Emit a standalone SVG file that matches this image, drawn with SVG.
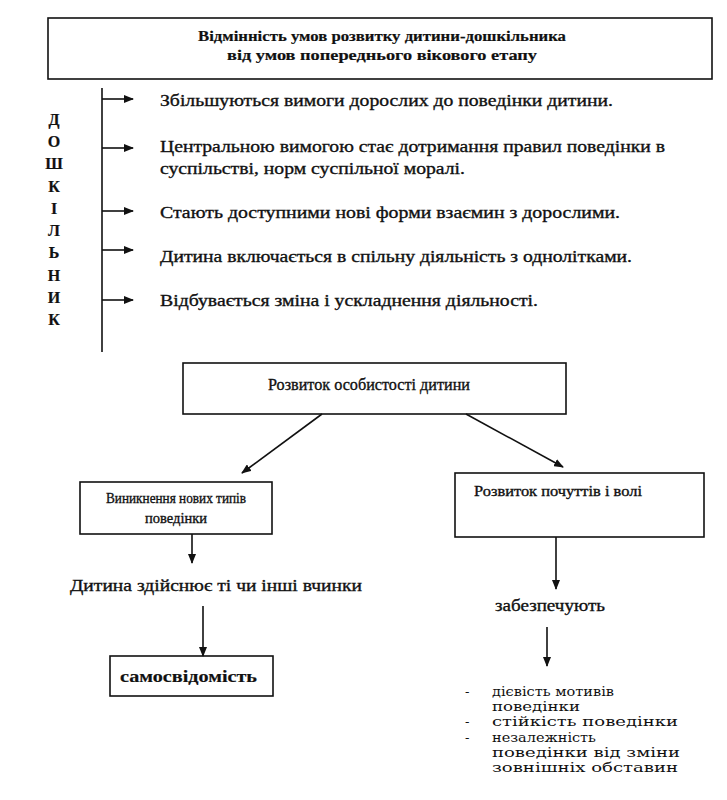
<svg xmlns="http://www.w3.org/2000/svg" width="727" height="800" viewBox="0 0 727 800">
<style>
.box{fill:#fff;stroke:#111;stroke-width:1.6}
.t{font-family:"Liberation Serif","Times New Roman",serif;fill:#111;stroke:#111;stroke-width:0.35}
.b{font-weight:bold;stroke-width:0.2}
.l{font-family:"DejaVu Serif","Liberation Serif",serif;stroke-width:0}
.ln{stroke:#111;stroke-width:1.6;fill:none}
</style>
<defs>
<marker id="ah" markerWidth="10" markerHeight="8" refX="9" refY="4" orient="auto" markerUnits="userSpaceOnUse">
<path d="M0,0 L10,4 L0,8 Z" fill="#111"/>
</marker>
</defs>
<rect width="727" height="800" fill="#fff"/>
<g id="title">
<rect class="box" x="48" y="18" width="664" height="61"/>
<text class="t b" x="382" y="41" font-size="15" text-anchor="middle" textLength="368" lengthAdjust="spacingAndGlyphs">Відмінність умов розвитку дитини-дошкільника</text>
<text class="t b" x="382" y="60" font-size="15" text-anchor="middle" textLength="310" lengthAdjust="spacingAndGlyphs">від умов попереднього вікового етапу</text>
</g>
<g id="preschooler" class="t b" font-size="16" text-anchor="middle">
<text x="54" y="125">Д</text>
<text x="54" y="147">О</text>
<text x="54" y="169">Ш</text>
<text x="54" y="192">К</text>
<text x="54" y="214">І</text>
<text x="54" y="236">Л</text>
<text x="54" y="258">Ь</text>
<text x="54" y="281">Н</text>
<text x="54" y="303">И</text>
<text x="54" y="325">К</text>
</g>
<g id="items" class="t" font-size="17">
<text x="160" y="106" textLength="453" lengthAdjust="spacingAndGlyphs">Збільшуються вимоги дорослих до поведінки дитини.</text>
<text x="160" y="152" textLength="505" lengthAdjust="spacingAndGlyphs">Центральною вимогою стає дотримання правил поведінки в</text>
<text x="160" y="174" textLength="305" lengthAdjust="spacingAndGlyphs">суспільстві, норм суспільної моралі.</text>
<text x="160" y="218" textLength="460" lengthAdjust="spacingAndGlyphs">Стають доступними нові форми взаємин з дорослими.</text>
<text x="160" y="262" textLength="472" lengthAdjust="spacingAndGlyphs">Дитина включається в спільну діяльність з однолітками.</text>
<text x="160" y="306" textLength="378" lengthAdjust="spacingAndGlyphs">Відбувається зміна і ускладнення діяльності.</text>
</g>
<g id="personality">
<rect class="box" x="183" y="363" width="383" height="51"/>
<text class="t" x="369" y="390" font-size="17" text-anchor="middle" textLength="202" lengthAdjust="spacingAndGlyphs">Розвиток особистості дитини</text>
</g>
<g id="behavior">
<rect class="box" x="80" y="482" width="192" height="52"/>
<text class="t" x="176" y="503" font-size="14.5" text-anchor="middle" textLength="140" lengthAdjust="spacingAndGlyphs">Виникнення нових типів</text>
<text class="t" x="176" y="523" font-size="14.5" text-anchor="middle">поведінки</text>
</g>
<g id="feelings">
<rect class="box" x="455" y="473" width="249" height="64"/>
<text class="t" x="474" y="496" font-size="14.5" textLength="168" lengthAdjust="spacingAndGlyphs">Розвиток почуттів і волі</text>
</g>
<g id="acts">
<text class="t" x="70" y="591" font-size="17" textLength="292" lengthAdjust="spacingAndGlyphs">Дитина здійснює ті чи інші вчинки</text>
</g>
<g id="selfaware">
<rect class="box" x="110" y="656" width="163" height="40"/>
<text class="t b" x="120" y="682" font-size="17" textLength="137" lengthAdjust="spacingAndGlyphs">самосвідомість</text>
</g>
<g id="provide">
<text class="t" x="495" y="611" font-size="17" textLength="110" lengthAdjust="spacingAndGlyphs">забезпечують</text>
</g>
<g id="list" class="t l" font-size="13">
<text x="465" y="696">-</text>
<text x="492" y="696" textLength="122" lengthAdjust="spacingAndGlyphs">дієвість мотивів</text>
<text x="492" y="711" textLength="88" lengthAdjust="spacingAndGlyphs">поведінки</text>
<text x="465" y="726">-</text>
<text x="492" y="726" textLength="186" lengthAdjust="spacingAndGlyphs">стійкість поведінки</text>
<text x="465" y="742">-</text>
<text x="492" y="742" textLength="104" lengthAdjust="spacingAndGlyphs">незалежність</text>
<text x="492" y="757" textLength="188" lengthAdjust="spacingAndGlyphs">поведінки від зміни</text>
<text x="492" y="772" textLength="186" lengthAdjust="spacingAndGlyphs">зовнішніх обставин</text>
</g>
<g id="connectors">
<line class="ln" x1="102" y1="88" x2="102" y2="352"/>
<line class="ln" x1="102" y1="99" x2="133" y2="99" marker-end="url(#ah)"/>
<line class="ln" x1="102" y1="148" x2="133" y2="148" marker-end="url(#ah)"/>
<line class="ln" x1="102" y1="211" x2="133" y2="211" marker-end="url(#ah)"/>
<line class="ln" x1="102" y1="250" x2="133" y2="250" marker-end="url(#ah)"/>
<line class="ln" x1="102" y1="300" x2="133" y2="300" marker-end="url(#ah)"/>
<line class="ln" x1="322" y1="414" x2="242" y2="473" marker-end="url(#ah)"/>
<line class="ln" x1="466" y1="414" x2="563" y2="467" marker-end="url(#ah)"/>
<line class="ln" x1="192" y1="534" x2="192" y2="563" marker-end="url(#ah)"/>
<line class="ln" x1="203" y1="606" x2="203" y2="656" marker-end="url(#ah)"/>
<line class="ln" x1="556" y1="537" x2="556" y2="589" marker-end="url(#ah)"/>
<line class="ln" x1="547" y1="627" x2="547" y2="666" marker-end="url(#ah)"/>
</g>
</svg>
